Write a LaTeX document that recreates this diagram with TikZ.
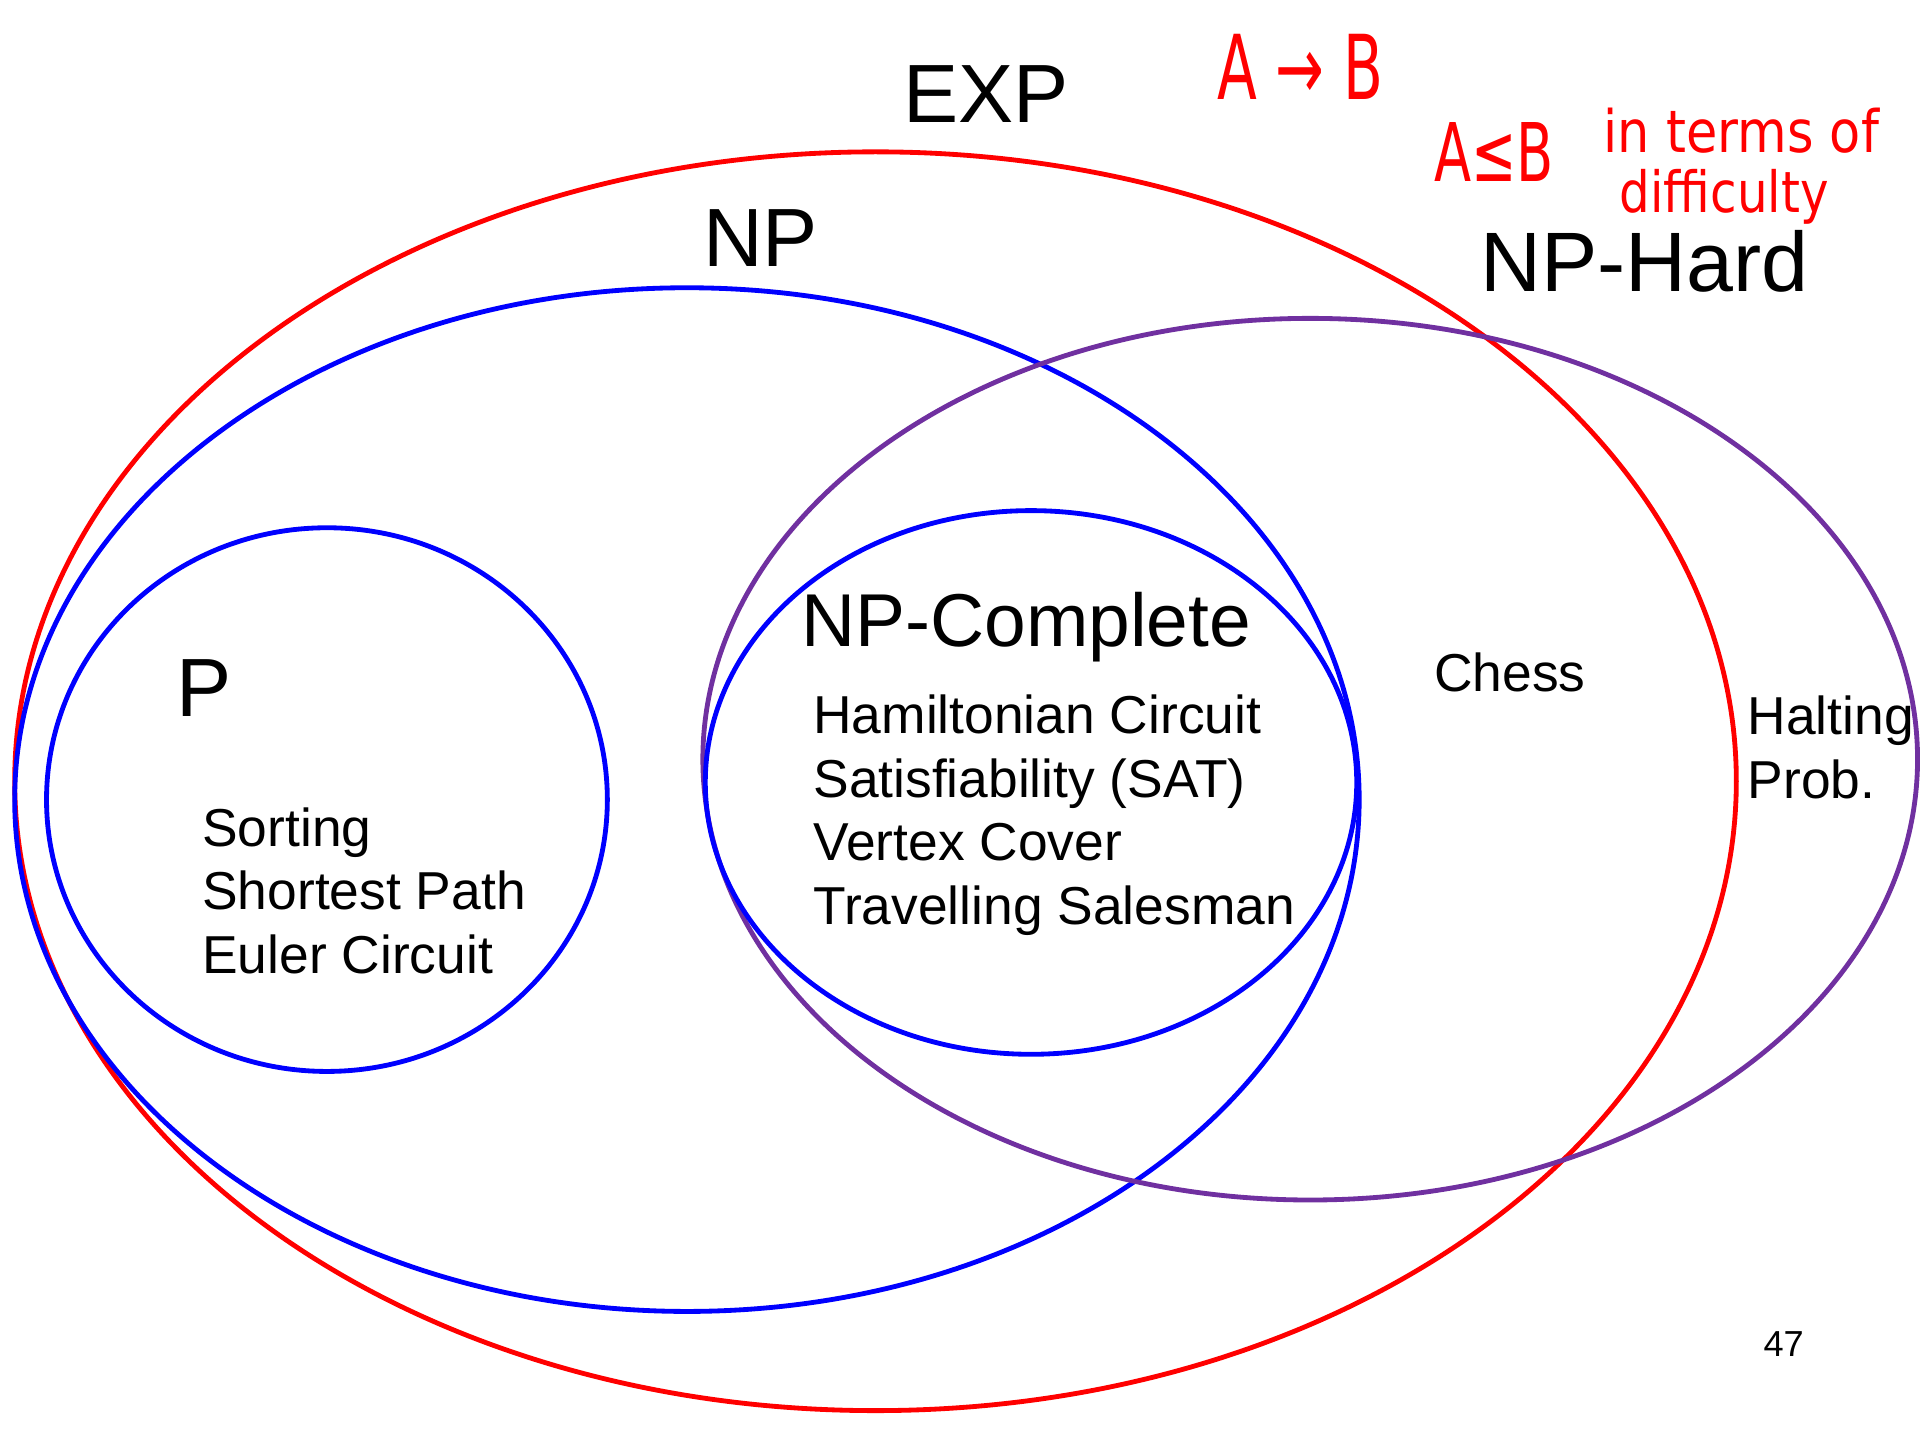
\documentclass[tikz,border=0pt]{standalone}
\usepackage{fontspec}
\setmainfont{Liberation Sans}
\newfontfamily\handfont{DejaVu Sans}
\definecolor{setblue}{RGB}{0,0,255}
\definecolor{setred}{RGB}{255,0,0}
\definecolor{setpurple}{RGB}{112,48,160}
\begin{document}
\begin{tikzpicture}[x=0.025cm, y=-0.025cm,
    set/.style={line width=2.8pt},
    big/.style={font=\fontsize{48}{58}\selectfont, anchor=base, inner sep=0pt},
    item/.style={font=\fontsize{31}{37}\selectfont, anchor=base west, inner sep=0pt},
    hand/.style={text=setred, inner sep=0pt}]

    \useasboundingbox (0,0) rectangle (1568,1176);

    % the classes
    \draw[set, setred] (715,638) ellipse [x radius=703, y radius=514];
    \draw[set, setblue] (561,653) ellipse [x radius=549, y radius=418];
    \draw[set, setblue] (267,653) ellipse [x radius=229, y radius=222];
    \draw[set, setpurple] (1070,620) ellipse [x radius=496, y radius=360];
    \draw[set, setblue] (842,639) ellipse [x radius=266, y radius=222];

    \node[big] (exp) at (805,100) {EXP};
    \node[big] (np) at (621,218) {NP};
    \node[big, font=\fontsize{49}{59}\selectfont] (nphard) at (1343,238) {NP-Hard};
    \node[big] (p) at (167,585) {P};
    \node[big, font=\fontsize{43.5}{52}\selectfont] (npc) at (838,528) {NP-Complete};

    % problems
    \node[item] (sorting) at (165,691) {Sorting};
    \node[item] (shortest) at (165,743) {Shortest Path};
    \node[item] (euler) at (165,795) {Euler Circuit};

    \node[item] (hamilton) at (664,599) {Hamiltonian Circuit};
    \node[item] (sat) at (664,651) {Satisfiability (SAT)};
    \node[item] (vertex) at (664,703) {Vertex Cover};
    \node[item] (tsp) at (664,755) {Travelling Salesman};

    \node[item] (chess) at (1171,565) {Chess};
    \node[item] (halting) at (1427,600) {Halting};
    \node[item] (prob) at (1427,652) {Prob.};

    \node[item, font=\fontsize{21}{25}\selectfont] (page) at (1440,1108) {47};

    % pen notes
    \node[hand, font=\handfont\fontsize{52}{60}\selectfont] (atob) at (1062,55) {\scalebox{0.65}[1]{A → B}};
    \node[hand, font=\handfont\fontsize{47}{56}\selectfont] (aleb) at (1220,124) {\scalebox{0.67}[1]{A≤B}};
    \node[hand, font=\handfont\fontsize{34}{40}\selectfont] (terms) at (1422,107) {\scalebox{0.87}[1]{in terms of}};
    \node[hand, font=\handfont\fontsize{33}{40}\selectfont] (diff) at (1408,161) {\scalebox{0.85}[1]{difficulty}};
\end{tikzpicture}
\end{document}
